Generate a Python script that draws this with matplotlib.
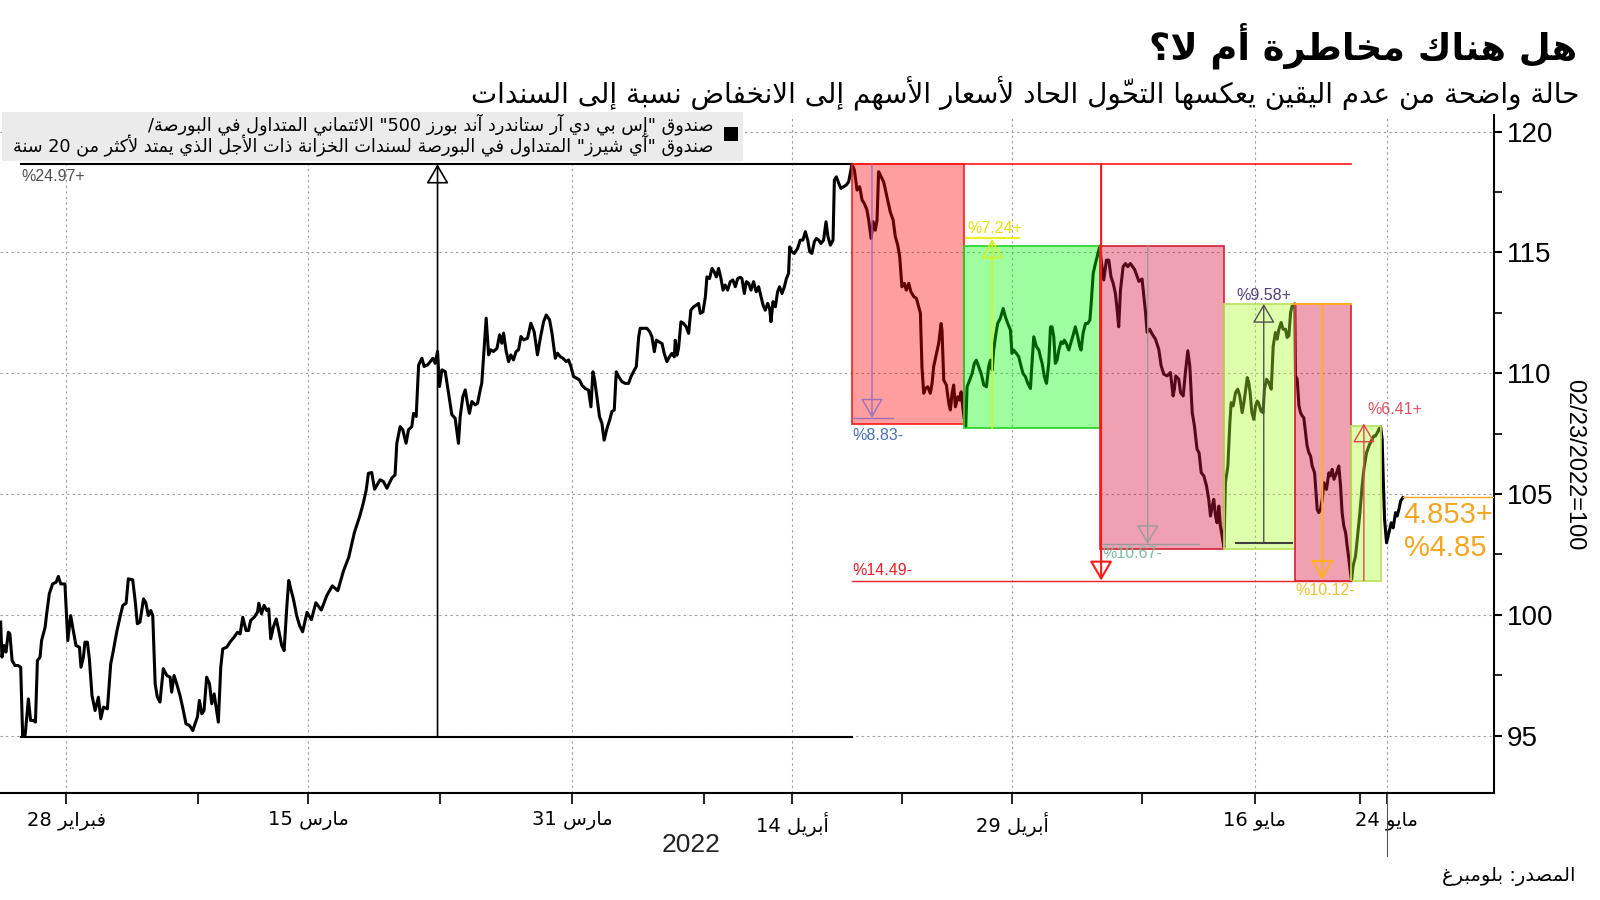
import matplotlib.pyplot as plt
from matplotlib.patches import Rectangle

# --- simple arabic shaping (presentation forms + visual order) ---
DUAL = dict(zip('ئبتثجحخسشصضطظعغفقكلمنهي',
                [0xFE89, 0xFE8F, 0xFE95, 0xFE99, 0xFE9D, 0xFEA1, 0xFEA5, 0xFEB1,
                 0xFEB5, 0xFEB9, 0xFEBD, 0xFEC1, 0xFEC5, 0xFEC9, 0xFECD, 0xFED1,
                 0xFED5, 0xFED9, 0xFEDD, 0xFEE1, 0xFEE5, 0xFEE9, 0xFEF1]))
RIGHT = dict(zip('آأؤإاةدذرزوىء',
                 [0xFE81, 0xFE83, 0xFE85, 0xFE87, 0xFE8D, 0xFE93, 0xFEA9, 0xFEAB,
                  0xFEAD, 0xFEAF, 0xFEED, 0xFEEF, 0xFE80]))
LAMALEF = {'آ': 0xFEF5, 'أ': 0xFEF7, 'إ': 0xFEF9, 'ا': 0xFEFB}
MARKS = set('\u064B\u064C\u064D\u064E\u064F\u0650\u0651\u0652')


def shape(s):
    res = []
    i, n = 0, len(s)
    while i < n:
        c = s[i]
        if c not in DUAL and c not in RIGHT:
            res.append(c)
            i += 1
            continue
        j = i - 1
        while j >= 0 and s[j] in MARKS:
            j -= 1
        prev = s[j] if j >= 0 else ''
        k = i + 1
        while k < n and s[k] in MARKS:
            k += 1
        nxt = s[k] if k < n else ''
        cp = prev in DUAL
        if c == 'ل' and nxt in LAMALEF:
            res.append(chr(LAMALEF[nxt] + (1 if cp else 0)))
            res.extend(s[i + 1:k])
            i = k + 1
            continue
        if c == 'ء':
            res.append(chr(0xFE80))
            i += 1
            continue
        cn = c in DUAL and (nxt in DUAL or nxt in RIGHT) and nxt != 'ء'
        base = DUAL.get(c) or RIGHT.get(c)
        if cp and cn:
            code = base + 3
        elif cp:
            code = base + 1
        elif cn:
            code = base + 2
        else:
            code = base
        res.append(chr(code))
        i += 1
    return res


def ar(s):
    cl = []
    for g in shape(s):
        if g in MARKS and cl:
            cl[-1] += g
        else:
            cl.append(g)

    def ltr(i):
        c = cl[i][0]
        if c.isascii() and (c.isdigit() or c.isalpha()):
            return True
        return (c in '.,' and 0 < i < len(cl) - 1
                and cl[i - 1][0].isdigit() and cl[i + 1][0].isdigit())
    runs = []
    for i, g in enumerate(cl):
        l = ltr(i)
        if runs and runs[-1][0] == l:
            runs[-1][1].append(g)
        else:
            runs.append([l, [g]])
    out = ''
    for l, gs in reversed(runs):
        out += ''.join(gs if l else gs[::-1])
    return out


# --- data: index (02/23/2022 = 100), x = trading sessions from Feb 28 ---
session = [
    -2.97, -2.91, -2.82, -2.73, -2.62, -2.55, -2.45, -2.32, -2.17, -2.06,
    -1.97, -1.86, -1.71, -1.61, -1.48, -1.39, -1.30, -1.18, -1.11, -0.95,
    -0.88, -0.76, -0.61, -0.45, -0.35, -0.24, -0.05, 0.08, 0.21, 0.33,
    0.45, 0.61, 0.68, 0.79, 0.86, 0.97, 1.06, 1.18, 1.32, 1.47,
    1.58, 1.70, 1.88, 2.03, 2.15, 2.30, 2.45, 2.58, 2.73, 2.83,
    3.03, 3.14, 3.24, 3.36, 3.52, 3.62, 3.74, 3.85, 3.94, 4.05,
    4.15, 4.27, 4.42, 4.58, 4.73, 4.80, 4.91, 5.03, 5.18, 5.33,
    5.45, 5.61, 5.76, 5.86, 5.97, 6.06, 6.17, 6.27, 6.39, 6.52,
    6.62, 6.73, 6.82, 6.92, 7.03, 7.12, 7.30, 7.45, 7.64, 7.79,
    7.91, 8.03, 8.18, 8.29, 8.39, 8.55, 8.70, 8.76, 8.88, 9.00,
    9.12, 9.21, 9.30, 9.42, 9.55, 9.65, 9.80, 9.91, 10.03, 10.12,
    10.21, 10.33, 10.48, 10.61, 10.75, 10.95, 11.15, 11.35, 11.60, 11.85,
    12.10, 12.35, 12.60, 12.85, 13.10, 13.35, 13.50, 13.64, 13.74, 13.89,
    14.02, 14.27, 14.42, 14.58, 14.80, 14.95, 15.03, 15.18, 15.30, 15.45,
    15.56, 15.71, 15.79, 15.91, 16.02, 16.17, 16.27, 16.42, 16.55, 16.67,
    16.77, 16.88, 16.97, 17.08, 17.23, 17.38, 17.53, 17.68, 17.83, 17.91,
    18.03, 18.14, 18.24, 18.33, 18.44, 18.59, 18.70, 18.82, 18.89, 19.00,
    19.09, 19.20, 19.30, 19.42, 19.58, 19.70, 19.80, 19.88, 20.00, 20.11,
    20.21, 20.33, 20.45, 20.56, 20.67, 20.79, 20.97, 21.12, 21.27, 21.42,
    21.55, 21.70, 21.82, 21.97, 22.08, 22.23, 22.33, 22.45, 22.58, 22.73,
    22.83, 22.94, 23.06, 23.21, 23.33, 23.44, 23.59, 23.74, 23.85, 23.94,
    24.02, 24.12, 24.24, 24.35, 24.45, 24.58, 24.70, 24.80, 24.91, 25.00,
    25.11, 25.26, 25.41, 25.56, 25.67, 25.82, 25.91, 26.02, 26.09, 26.24,
    26.39, 26.52, 26.62, 26.73, 26.82, 26.94, 27.08, 27.18, 27.30, 27.42,
    27.53, 27.64, 27.68, 27.76, 27.83, 27.94, 28.06, 28.18, 28.29, 28.39,
    28.52, 28.64, 28.74, 28.82, 28.94, 29.05, 29.12, 29.24, 29.35, 29.45,
    29.55, 29.65, 29.76, 29.85, 29.95, 30.06, 30.18, 30.30, 30.41, 30.52,
    30.64, 30.71, 30.82, 30.91, 31.02, 31.12, 31.24, 31.36, 31.47, 31.58,
    31.67, 31.77, 31.88, 31.97, 32.03, 32.12, 32.23, 32.33, 32.42, 32.53,
    32.64, 32.73, 32.83, 32.88, 32.98, 33.09, 33.24, 33.36, 33.48, 33.59,
    33.70, 33.79, 33.89, 34.00, 34.09, 34.20, 34.30, 34.42, 34.53, 34.62,
    34.73, 34.85, 34.91, 35.00, 35.11, 35.21, 35.33, 35.45, 35.56, 35.71,
    35.82, 35.94, 36.06, 36.17, 36.27, 36.39, 36.47, 36.58, 36.67, 36.77,
    36.85, 36.92, 37.00, 37.15, 37.30, 37.45, 37.58, 37.68, 37.79, 37.88,
    37.98, 38.09, 38.18, 38.29, 38.39, 38.52, 38.64, 38.74, 38.82, 38.89,
    38.97, 39.05, 39.15, 39.27, 39.35, 39.42, 39.55, 39.65, 39.76, 39.80,
    39.88, 40.00, 40.11, 40.18, 40.26, 40.33, 40.41, 40.52, 40.61, 40.67,
    40.76, 40.82, 40.88, 40.94, 41.06, 41.17, 41.27, 41.36, 41.47, 41.58,
    41.70, 41.82, 41.92, 42.00, 42.08, 42.15, 42.23, 42.33, 42.45, 42.58,
    42.68, 42.79, 42.91, 42.98, 43.06, 43.18, 43.29, 43.36, 43.48, 43.59,
    43.70, 43.82, 43.89, 43.97, 44.09, 44.20, 44.27, 44.35, 44.45, 44.55,
    44.65, 44.73, 44.80, 44.88, 44.95, 45.03, 45.11, 45.21, 45.30, 45.36,
    45.45, 45.56, 45.67, 45.76, 45.86, 45.97, 46.06, 46.12, 46.21, 46.32,
    46.42, 46.52, 46.58, 46.67, 46.77, 46.85, 46.97, 47.03, 47.15, 47.27,
    47.38, 47.48, 47.58, 47.68, 47.76, 47.83, 47.91, 48.03, 48.14, 48.24,
    48.36, 48.55, 48.75, 48.89, 49.05, 49.12, 49.24, 49.35, 49.50, 49.65,
    49.76, 49.88, 50.03, 50.18, 50.30, 50.36, 50.42, 50.56, 50.64, 50.76,
    50.86, 50.97, 51.06, 51.17, 51.27, 51.39, 51.48, 51.58, 51.70, 51.82,
    51.92, 52.00, 52.08, 52.15, 52.23, 52.30, 52.38, 52.45, 52.53, 52.61,
    52.68, 52.79, 52.88, 52.94, 53.03, 53.14, 53.24, 53.33, 53.44, 53.52,
    53.58, 53.67, 53.74, 53.80, 53.88, 53.97, 54.05, 54.12, 54.18, 54.29,
    54.39, 54.45, 54.55, 54.65, 54.76, 54.85, 54.95, 55.03, 55.11, 55.21,
    55.30, 55.41, 55.48, 55.56, 55.64, 55.71, 55.83, 55.86, 55.94, 56.02,
    56.09, 56.17, 56.24, 56.32, 56.39, 56.47, 56.55, 56.62, 56.73, 56.85,
    56.92, 57.00, 57.08, 57.15, 57.27, 57.38, 57.45, 57.53, 57.61, 57.73,
    57.83, 57.91, 57.98, 58.06, 58.14, 58.21, 58.29, 58.36, 58.41, 58.48,
    58.59, 58.70, 58.79, 58.89, 58.97, 59.09, 59.20, 59.27, 59.35, 59.42,
    59.50, 59.58, 59.65, 59.73, 59.80, 59.85, 59.91, 60.00, 60.11, 60.21,
    60.30, 60.41, 60.48, 60.56, 60.64, 60.74,
]
index_val = [
    99.70, 98.25, 98.73, 98.46, 99.28, 99.21, 98.11, 97.90, 97.90, 97.83,
    94.96, 95.01, 96.52, 95.63, 95.63, 95.56, 98.11, 98.25, 98.94, 99.49,
    100.04, 100.87, 101.28, 101.35, 101.59, 101.28, 101.28, 98.94, 99.97, 99.35,
    98.73, 98.66, 97.83, 98.25, 98.87, 98.87, 98.18, 96.66, 96.04, 96.59,
    95.70, 96.18, 96.11, 97.97, 98.52, 99.28, 99.90, 100.39, 100.48, 101.49,
    101.45, 100.59, 99.63, 99.70, 100.66, 100.52, 99.97, 100.18, 99.97, 97.14,
    96.59, 96.39, 97.77, 97.49, 97.42, 96.80, 97.49, 97.14, 96.66, 96.04,
    95.49, 95.42, 95.21, 95.49, 95.77, 96.46, 95.90, 96.04, 97.42, 97.14,
    96.32, 96.73, 96.18, 95.56, 97.83, 98.59, 98.66, 98.87, 99.08, 99.28,
    99.21, 99.90, 99.35, 99.35, 99.77, 99.90, 100.11, 100.48, 100.04, 100.39,
    100.18, 100.25, 99.01, 99.49, 99.83, 99.42, 98.73, 98.52, 100.32, 101.42,
    101.08, 100.66, 99.97, 99.56, 99.30, 100.10, 99.80, 100.50, 100.20, 100.80,
    101.20, 101.00, 101.80, 102.40, 103.40, 104.10, 104.60, 105.17, 105.86, 105.89,
    105.20, 105.59, 105.52, 105.24, 105.66, 105.79, 107.10, 107.79, 107.66, 107.10,
    107.66, 107.79, 108.34, 108.21, 110.34, 110.62, 110.28, 110.34, 110.48, 110.62,
    110.41, 110.90, 109.45, 110.14, 110.07, 109.17, 108.28, 108.14, 107.10, 108.21,
    109.03, 109.31, 108.76, 108.34, 108.83, 108.69, 108.76, 109.31, 109.59, 111.10,
    112.28, 110.76, 110.97, 110.90, 111.03, 111.59, 111.24, 111.66, 110.90, 110.48,
    110.76, 110.55, 110.90, 110.97, 111.52, 111.38, 111.45, 112.07, 111.72, 110.76,
    111.45, 112.14, 112.41, 112.21, 111.66, 110.62, 110.83, 110.69, 110.62, 110.48,
    110.55, 110.28, 109.86, 109.79, 109.72, 109.51, 109.37, 109.30, 108.61, 110.06,
    109.72, 109.03, 108.20, 107.92, 107.23, 107.72, 108.06, 108.41, 108.48, 110.06,
    109.86, 109.65, 109.58, 109.58, 109.86, 110.13, 110.27, 111.51, 111.86, 111.86,
    111.86, 111.72, 111.51, 110.89, 111.37, 111.30, 111.23, 110.82, 110.48, 110.68,
    110.82, 110.68, 111.37, 110.75, 111.03, 112.13, 112.06, 111.92, 111.65, 112.61,
    112.75, 112.82, 112.89, 112.48, 112.54, 113.17, 113.99, 113.92, 114.34, 114.20,
    113.99, 114.34, 113.92, 113.44, 113.65, 113.44, 113.79, 113.86, 113.58, 113.92,
    113.97, 113.92, 113.30, 113.79, 113.72, 113.44, 113.79, 113.37, 113.58, 113.17,
    112.82, 112.61, 112.89, 112.68, 112.13, 112.96, 112.75, 113.37, 113.58, 113.30,
    113.58, 113.92, 114.13, 115.23, 115.03, 114.96, 115.17, 115.51, 115.51, 115.86,
    115.51, 115.03, 114.96, 115.44, 115.58, 115.51, 115.37, 115.51, 116.27, 115.65,
    115.30, 115.51, 117.99, 118.13, 117.86, 117.65, 117.72, 117.79, 117.92, 118.65,
    118.41, 117.58, 117.72, 117.17, 117.03, 116.76, 116.34, 115.58, 116.27, 115.92,
    116.34, 118.34, 118.20, 117.92, 117.30, 116.68, 116.34, 115.65, 115.30, 114.82,
    113.58, 113.72, 113.44, 113.72, 113.37, 113.17, 113.10, 112.75, 112.48, 110.27,
    109.17, 109.37, 109.44, 109.17, 109.58, 110.27, 110.82, 111.23, 112.06, 111.79,
    109.72, 109.51, 108.75, 108.48, 109.17, 109.51, 108.61, 109.03, 108.89, 109.23,
    108.48, 108.06, 107.79, 109.44, 109.72, 109.99, 110.41, 110.54, 110.27, 109.99,
    109.51, 109.44, 110.27, 110.54, 110.13, 110.96, 111.51, 112.06, 112.27, 112.68,
    112.34, 112.06, 111.79, 110.82, 110.96, 110.82, 110.68, 110.41, 109.99, 109.86,
    109.58, 109.37, 110.41, 111.51, 111.10, 110.96, 110.68, 110.41, 109.86, 109.58,
    110.41, 111.92, 111.92, 111.51, 110.41, 110.54, 110.96, 111.30, 111.23, 111.37,
    111.23, 110.96, 111.30, 111.58, 111.92, 111.51, 111.10, 110.96, 111.65, 112.06,
    112.06, 112.20, 112.89, 114.13, 114.54, 114.82, 115.26, 114.68, 113.86, 114.68,
    114.68, 113.99, 113.72, 113.30, 112.61, 111.92, 113.44, 114.41, 114.54, 114.41,
    114.54, 114.30, 113.80, 113.90, 112.51, 111.69, 111.82, 111.62, 111.41, 110.99,
    110.30, 109.96, 109.89, 110.03, 109.06, 109.34, 109.89, 109.75, 109.20, 109.06,
    110.03, 110.93, 110.30, 108.37, 107.82, 106.85, 106.71, 105.88, 105.75, 105.33,
    104.78, 104.09, 104.50, 104.78, 104.09, 103.81, 104.50, 103.67, 103.26, 102.80,
    105.47, 106.16, 107.96, 108.78, 108.65, 109.20, 109.34, 109.06, 108.37, 108.78,
    109.20, 109.82, 109.61, 109.20, 108.37, 108.09, 108.65, 108.85, 108.78, 108.44,
    108.37, 109.34, 109.75, 109.61, 109.34, 111.13, 111.69, 111.41, 111.82, 112.10,
    111.82, 111.82, 111.48, 111.55, 112.51, 112.79, 112.87, 109.89, 109.75, 108.65,
    108.37, 108.23, 108.16, 107.54, 106.99, 106.71, 106.57, 106.16, 105.88, 104.36,
    104.23, 104.36, 104.78, 105.47, 105.19, 105.88, 105.75, 106.02, 105.61, 105.88,
    106.16, 105.33, 104.23, 103.67, 103.40, 102.85, 102.29, 101.74, 101.42, 102.02,
    102.43, 103.40, 104.23, 105.33, 106.02, 106.71, 106.99, 107.13, 107.27, 107.40,
    107.40, 107.54, 107.68, 107.79, 107.27, 105.61, 103.95, 102.98, 103.40, 103.81,
    103.60, 104.23, 104.09, 104.36, 104.71, 104.85,
]

major_pos = [0, 11, 23, 33, 43, 54, 60]
major_lab = ['فبراير 28', 'مارس 15', 'مارس 31', 'أبريل 14', 'أبريل 29', 'مايو 16', 'مايو 24']
minor_pos = [6, 17, 29, 38, 48.9, 58.8]
y_ticks = [95, 100, 105, 110, 115, 120]

# move boxes: (start, end, low, high, kind)
moves = [
    (35.71, 40.82, 107.90, 118.65, 'down1'),
    (40.82, 46.97, 107.72, 115.26, 'up1'),
    (46.97, 52.61, 102.73, 115.26, 'down2'),
    (52.61, 55.83, 102.73, 112.87, 'up2'),
    (55.83, 58.38, 101.42, 112.87, 'down2'),
    (58.38, 59.73, 101.42, 107.80, 'up2'),
]
box_style = {
    'down1': ((1, 0, 0, 0.38), '#ff1a1a'),
    'up1': ((0, 1, 0, 0.38), '#22d022'),
    'down2': ((0.86, 0.08, 0.24, 0.40), '#d4203a'),
    'up2': ((0.68, 1, 0.18, 0.40), '#b8e05a'),
}

ARF = 'DejaVu Sans'
NUMF = 'Liberation Sans'

fig = plt.figure(figsize=(16, 9), dpi=100)
ax = fig.add_axes([0, 0.119, 0.934, 0.753])
ax.set_xlim(-3.0, 64.9)
ax.set_ylim(92.63, 120.68)

for yv in y_ticks:
    ax.axhline(yv, color='#9a9a9a', lw=0.8, ls=(0, (2, 3)), zorder=1)
for xv in major_pos:
    ax.axvline(xv, color='#9a9a9a', lw=0.8, ls=(0, (2, 3)), zorder=1)

ax.plot(session, index_val, color='black', lw=2.2, zorder=2, solid_joinstyle='round')

for x0, x1, lo, hi, kind in moves:
    fc, ec = box_style[kind]
    ax.add_patch(Rectangle((x0, lo), x1 - x0, hi - lo, facecolor=fc, edgecolor=ec,
                           lw=1.2, zorder=3))

# range lines
ax.plot([-2.05, 35.71], [118.65, 118.65], color='black', lw=1.5, zorder=4)
ax.plot([-2.05, 35.71], [94.96, 94.96], color='black', lw=1.5, zorder=4)
ax.plot([35.71, 58.38], [118.65, 118.65], color='#ff1a1a', lw=1.2, zorder=4)
ax.plot([35.71, 58.38], [101.42, 101.42], color='#e8202a', lw=1.0, zorder=4)
ax.plot([55.7, 58.38], [112.87, 112.87], color='#ffb020', lw=1.4, zorder=4)
ax.plot([60.74, 64.9], [104.88, 104.88], color='#f5a623', lw=1.0, zorder=4)


def arrow(x, y0, y1, color, lw=1.0):
    ax.annotate('', xy=(x, y1), xytext=(x, y0), zorder=5,
                arrowprops=dict(arrowstyle='-|>,head_length=0.55,head_width=0.32',
                                fc='none', ec=color, lw=lw, mutation_scale=22,
                                shrinkA=0, shrinkB=0))


arrow(16.88, 94.96, 118.65, 'black', 1.2)
arrow(36.62, 118.65, 108.16, '#9b6fc0')
ax.plot([35.71, 37.58], [108.16, 108.16], color='#9b6fc0', lw=1.0, zorder=5)
arrow(42.08, 107.72, 115.55, '#d8f020', 1.2)
ax.plot([40.91, 43.29], [115.6, 115.6], color='#f0f020', lw=1.5, zorder=5)
arrow(47.03, 118.65, 101.42, '#ff1a1a', 1.5)
arrow(49.15, 115.26, 102.93, '#9a9a9a')
ax.plot([47.1, 51.5], [102.93, 102.93], color='#9a9a9a', lw=1.0, zorder=5)
arrow(54.42, 102.98, 112.87, '#505050')
ax.plot([53.18, 55.71], [102.98, 102.98], color='#404040', lw=1.5, zorder=5)
arrow(57.08, 112.87, 101.45, '#ffb020', 1.5)
arrow(58.97, 101.42, 107.92, '#e84050')

lab = dict(fontsize=11.5, family=NUMF, zorder=6)
ax.text(-2.05, 118.45, '%24.97+', color='#505050', va='top', ha='left', **lab)
ax.text(35.75, 107.75, '%8.83-', color='#4a6fb5', va='top', ha='left', **lab)
ax.text(40.95, 115.7, '%7.24+', color='#e8e000', va='bottom', ha='left', **lab)
ax.text(35.75, 101.84, '%14.49-', color='#e8202a', va='center', ha='left', **lab)
ax.text(47.1, 102.52, '%10.67-', color='#7fbf9f', va='center', ha='left', **lab)
ax.text(53.18, 113.2, '%9.58+', color='#50407a', va='center', ha='left', **lab)
ax.text(55.86, 101.0, '%10.12-', color='#f0c030', va='center', ha='left', **lab)
ax.text(59.12, 108.5, '%6.41+', color='#e05060', va='center', ha='left', **lab)
ax.text(60.77, 104.13, '4.853+', color='#f5a623', va='center', ha='left',
        fontsize=21, family=NUMF, zorder=6)
ax.text(60.77, 102.77, '%4.85', color='#f5a623', va='center', ha='left',
        fontsize=21, family=NUMF, zorder=6)

# axes styling
for s in ['left', 'top']:
    ax.spines[s].set_visible(False)
ax.spines['bottom'].set_linewidth(1.5)
ax.spines['right'].set_linewidth(1.5)
ax.yaxis.tick_right()
ax.set_yticks(y_ticks)
ax.set_yticks([97.5, 102.5, 107.5, 112.5, 117.5], minor=True)
ax.tick_params(axis='y', which='major', length=6, width=1.5, labelsize=20, pad=3)
ax.tick_params(axis='y', which='minor', length=6, width=1.2)
for t in ax.get_yticklabels():
    t.set_fontfamily(NUMF)
ax.set_xticks(major_pos)
ax.set_xticklabels([ar(s) for s in major_lab], fontsize=14, family=ARF)
ax.set_xticks(minor_pos, minor=True)
ax.tick_params(axis='x', which='major', length=8, width=1.2, pad=5)
ax.tick_params(axis='x', which='minor', length=8, width=1.2)

ax.plot([60, 60], [92.63, 90.0], color='#555555', lw=0.8, clip_on=False)

fig.text(0.984, 0.484, '02/23/2022=100', rotation=270, ha='center', va='center',
         fontsize=17, family=NUMF)
fig.text(0.432, 0.061, '2022', ha='center', va='center', fontsize=19, family=NUMF,
         color='#222222')

# titles
fig.text(0.986, 0.949, ar('هل هناك مخاطرة أم لا؟'), ha='right', va='center',
         fontsize=26.5, fontweight='bold', family=ARF)
fig.text(0.987, 0.896, ar('حالة واضحة من عدم اليقين يعكسها التحوّل الحاد لأسعار الأسهم إلى الانخفاض نسبة إلى السندات'),
         ha='right', va='center', fontsize=20, family=ARF)
fig.text(0.985, 0.026, ar('المصدر: بلومبرغ'), ha='right', va='center', fontsize=14,
         family=ARF)

# legend box
fig.patches.append(Rectangle((0.00125, 0.821), 0.463, 0.054, transform=fig.transFigure,
                             facecolor='#ebebeb', edgecolor='none', zorder=0))
fig.patches.append(Rectangle((0.4525, 0.843), 0.0088, 0.0155, transform=fig.transFigure,
                             facecolor='black', edgecolor='none', zorder=1))
fig.text(0.446, 0.862, ar('صندوق "إس بي دي آر ستاندرد آند بورز 500" الائتماني المتداول في البورصة/'),
         ha='right', va='center', fontsize=12.7, family=ARF)
fig.text(0.446, 0.838, ar('صندوق "آي شيرز" المتداول في البورصة لسندات الخزانة ذات الأجل الذي يمتد لأكثر من 20 سنة'),
         ha='right', va='center', fontsize=12.7, family=ARF)

fig.savefig('out.png', dpi=100)
